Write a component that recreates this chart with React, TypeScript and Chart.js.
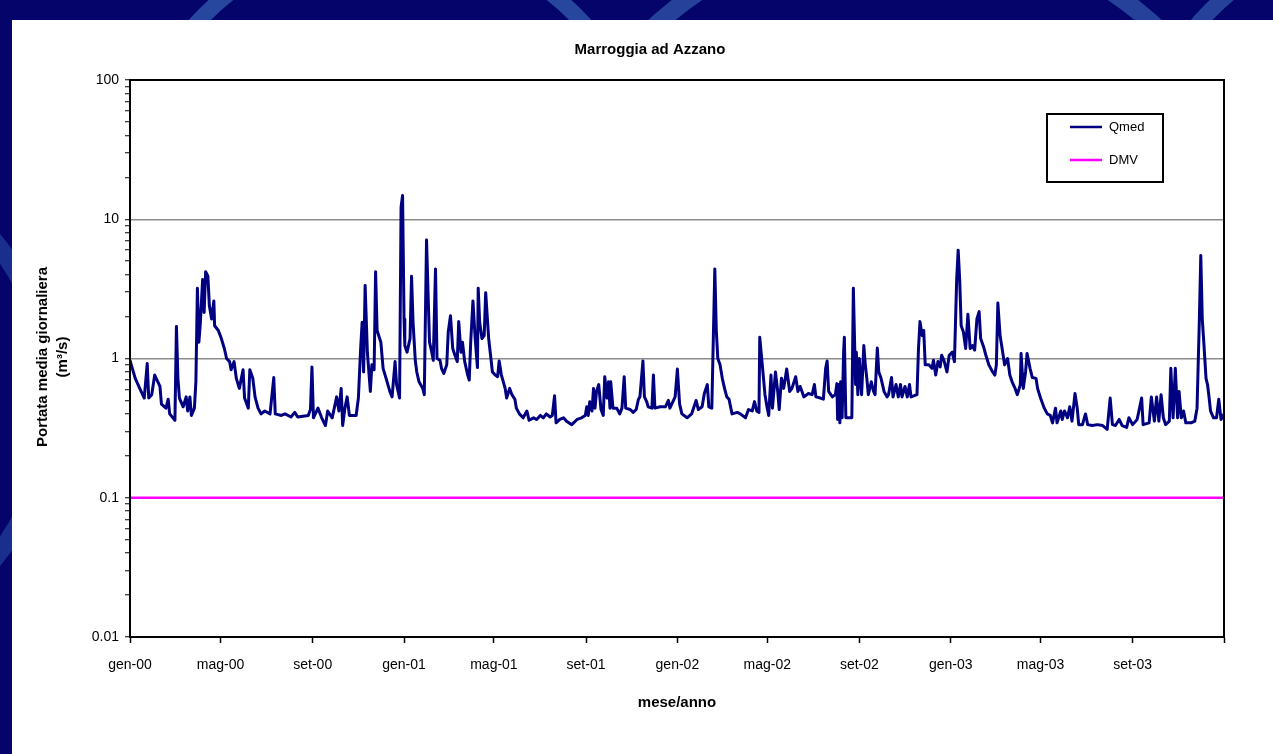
import React, { useEffect, useRef } from 'react';
import { Chart, registerables } from 'chart.js';

Chart.register(...registerables);

// ---------------- data ----------------
const CHART_TITLE = 'Marroggia ad Azzano';
const X_TITLE = 'mese/anno';
const Y_TITLE = ['Portata media giornaliera', '(m\u00B3/s)'];

// day offsets from 1 Jan 2000
const DAYS = [
  0, 7, 13, 19, 23, 25, 29, 33, 40, 42, 48, 51, 53, 60, 62, 64, 66, 71, 75, 77, 80, 82, 86, 88, 90, 92, 94, 97, 99, 101,
  104, 106, 109, 112, 113, 118, 122, 126, 129, 133, 135, 139, 142, 146, 151, 153, 158, 160, 164, 167, 171, 175, 180, 187, 192, 194, 202, 207, 215, 220,
  224, 238, 241, 243, 245, 251, 256, 261, 264, 270, 276, 279, 282, 284, 287, 290, 293, 302, 305, 308, 310, 312, 314, 317, 319, 321, 323, 326, 328, 330,
  335, 338, 342, 347, 350, 354, 356, 360, 362, 364, 366, 367, 370, 374, 376, 378, 381, 383, 386, 391, 393, 396, 400, 403, 405, 408, 410, 414, 416, 419,
  423, 425, 428, 431, 434, 437, 439, 442, 444, 447, 451, 453, 455, 458, 461, 464, 465, 467, 470, 473, 475, 479, 482, 484, 488, 491, 493, 496, 501, 503,
  507, 510, 514, 516, 520, 525, 530, 533, 539, 543, 548, 552, 556, 561, 564, 567, 569, 574, 579, 583, 590, 597, 603, 608, 610, 612, 614, 617, 619, 621,
  623, 626, 629, 632, 634, 637, 639, 641, 642, 645, 650, 654, 657, 660, 662, 668, 672, 676, 679, 681, 685, 687, 690, 692, 697, 699, 701, 708, 715, 719,
  721, 728, 731, 734, 737, 744, 750, 756, 759, 764, 767, 771, 773, 777, 781, 783, 785, 788, 791, 794, 797, 800, 804, 811, 815, 822, 826, 831, 834, 837,
  840, 841, 844, 848, 851, 853, 856, 858, 862, 865, 867, 870, 873, 877, 881, 884, 889, 892, 895, 900, 906, 911, 914, 916, 922, 926, 929, 931, 933, 938,
  942, 944, 945, 946, 948, 949, 951, 953, 954, 956, 964, 966, 969, 970, 972, 974, 977, 980, 982, 984, 986, 990, 993, 995, 998, 1000, 1003, 1007, 1011, 1013,
  1017, 1019, 1023, 1026, 1029, 1031, 1035, 1038, 1041, 1043, 1051, 1053, 1055, 1058, 1060, 1062, 1067, 1071, 1073, 1076, 1079, 1082, 1084, 1087, 1091, 1094, 1098, 1101, 1104, 1106,
  1108, 1110, 1113, 1116, 1119, 1122, 1125, 1128, 1131, 1134, 1136, 1140, 1143, 1147, 1152, 1155, 1157, 1159, 1162, 1165, 1168, 1172, 1175, 1178, 1182, 1185, 1189, 1190, 1193, 1196,
  1198, 1202, 1205, 1210, 1212, 1216, 1221, 1225, 1229, 1232, 1236, 1238, 1243, 1245, 1248, 1252, 1255, 1258, 1262, 1265, 1267, 1272, 1276, 1279, 1285, 1292, 1299, 1305, 1309, 1312,
  1316, 1321, 1325, 1331, 1334, 1339, 1345, 1351, 1353, 1361, 1364, 1368, 1371, 1374, 1377, 1380, 1383, 1388, 1390, 1393, 1396, 1399, 1401, 1404, 1407, 1410, 1417, 1422, 1425, 1428,
  1430, 1432, 1434, 1437, 1439, 1441, 1443, 1447, 1451, 1454, 1457, 1461,
];

// Qmed, m3/s
const QMED = [
  0.97, 0.72, 0.61, 0.52, 0.92, 0.52, 0.55, 0.76, 0.63, 0.47, 0.44, 0.51, 0.40, 0.36, 1.70, 0.72, 0.52, 0.45, 0.53, 0.42, 0.53, 0.39, 0.44, 0.68, 3.2, 1.31, 1.82, 3.7, 2.14, 4.2,
  3.9, 2.39, 1.92, 2.59, 1.72, 1.59, 1.39, 1.18, 1.0, 0.95, 0.83, 0.95, 0.72, 0.61, 0.83, 0.52, 0.44, 0.83, 0.72, 0.53, 0.44, 0.40, 0.42, 0.40, 0.73, 0.40, 0.39, 0.40, 0.38, 0.41,
  0.38, 0.39, 0.43, 0.87, 0.375, 0.44, 0.375, 0.33, 0.42, 0.375, 0.53, 0.42, 0.61, 0.33, 0.44, 0.53, 0.39, 0.39, 0.52, 1.18, 1.82, 0.80, 3.35, 1.11, 0.80, 0.58, 0.90, 0.83, 4.2, 1.59,
  1.31, 0.85, 0.72, 0.58, 0.53, 0.95, 0.65, 0.52, 12.2, 14.8, 1.92, 1.24, 1.11, 1.39, 3.9, 1.82, 0.97, 0.80, 0.68, 0.61, 0.55, 7.1, 1.31, 1.11, 0.97, 4.4, 1.0, 0.97, 0.85, 0.78,
  0.90, 1.55, 2.03, 1.18, 1.055, 0.95, 1.84, 1.11, 1.31, 0.95, 0.76, 0.70, 1.31, 2.59, 1.39, 0.86, 3.2, 1.82, 1.39, 1.46, 2.97, 1.39, 1.0, 0.80, 0.76, 0.74, 0.96, 0.76, 0.61, 0.52,
  0.61, 0.55, 0.51, 0.44, 0.40, 0.375, 0.42, 0.36, 0.375, 0.365, 0.39, 0.375, 0.40, 0.38, 0.39, 0.54, 0.345, 0.365, 0.375, 0.355, 0.335, 0.365, 0.375, 0.39, 0.45, 0.39, 0.49, 0.42, 0.61, 0.44,
  0.58, 0.65, 0.43, 0.39, 0.74, 0.52, 0.68, 0.44, 0.68, 0.44, 0.44, 0.40, 0.44, 0.74, 0.44, 0.43, 0.41, 0.43, 0.51, 0.53, 0.96, 0.53, 0.49, 0.45, 0.44, 0.76, 0.44, 0.45, 0.45, 0.50,
  0.44, 0.53, 0.84, 0.47, 0.40, 0.375, 0.40, 0.50, 0.43, 0.45, 0.56, 0.65, 0.45, 0.44, 4.4, 1.59, 1.0, 0.90, 0.72, 0.61, 0.53, 0.51, 0.40, 0.41, 0.40, 0.375, 0.43, 0.42, 0.49, 0.42,
  0.41, 1.42, 0.95, 0.55, 0.44, 0.39, 0.76, 0.44, 0.80, 0.58, 0.43, 0.72, 0.61, 0.84, 0.58, 0.61, 0.74, 0.58, 0.63, 0.53, 0.56, 0.55, 0.65, 0.53, 0.52, 0.51, 0.85, 0.96, 0.58, 0.53,
  0.55, 0.66, 0.365, 0.65, 0.345, 0.68, 0.375, 1.11, 1.42, 0.375, 0.375, 3.2, 0.65, 1.11, 0.55, 1.0, 0.55, 1.24, 0.90, 0.72, 0.55, 0.68, 0.58, 0.55, 1.19, 0.80, 0.72, 0.58, 0.53, 0.55,
  0.73, 0.53, 0.65, 0.53, 0.65, 0.53, 0.63, 0.53, 0.65, 0.53, 0.55, 1.18, 1.84, 1.46, 1.59, 0.90, 0.90, 0.85, 0.97, 0.76, 0.95, 0.87, 1.055, 0.97, 0.80, 1.055, 1.11, 0.95, 3.7, 6.0,
  3.7, 1.72, 1.55, 1.18, 2.08, 1.18, 1.24, 1.15, 1.92, 2.17, 1.39, 1.21, 1.055, 0.90, 0.80, 0.76, 0.90, 2.50, 1.46, 1.15, 0.90, 1.0, 0.76, 0.68, 0.61, 0.55, 0.65, 1.085, 0.61, 0.80,
  1.085, 0.85, 0.73, 0.72, 0.61, 0.52, 0.44, 0.40, 0.39, 0.345, 0.44, 0.345, 0.42, 0.365, 0.42, 0.375, 0.45, 0.355, 0.56, 0.44, 0.335, 0.335, 0.40, 0.335, 0.33, 0.335, 0.33, 0.31, 0.52, 0.335,
  0.33, 0.365, 0.33, 0.32, 0.375, 0.335, 0.365, 0.52, 0.335, 0.345, 0.53, 0.355, 0.53, 0.355, 0.55, 0.375, 0.335, 0.355, 0.85, 0.375, 0.85, 0.375, 0.58, 0.375, 0.42, 0.345, 0.345, 0.355, 0.44, 1.82,
  5.5, 1.92, 1.31, 0.72, 0.65, 0.53, 0.42, 0.375, 0.375, 0.51, 0.365, 0.40,
];

const DMV_VALUE = 0.1;
const SERIES_LABELS = ['Qmed', 'DMV'];

const X_TICK_DAYS = [0, 121, 244, 366, 486, 609, 731, 851, 974, 1096, 1216, 1339, 1461];
const X_TICK_LABELS = ['gen-00', 'mag-00', 'set-00', 'gen-01', 'mag-01', 'set-01', 'gen-02', 'mag-02', 'set-02', 'gen-03', 'mag-03', 'set-03', ''];

const Y_MAJOR = [0.01, 0.1, 1, 10, 100];
const Y_LABELS = ['0.01', '0.1', '1', '10', '100'];

// ---------------- styling ----------------
const FONT = '"Liberation Sans", Arial, sans-serif';
const QMED_COLOR = '#000080';
const DMV_COLOR = '#FF00FF';
const CANVAS_W = 1261;
const CANVAS_H = 734;

function isMajor(v: number) {
  return Y_MAJOR.some((m) => Math.abs(v - m) / m < 1e-6);
}

const decorPlugin = {
  id: 'decor',
  afterDatasetsDraw(chart: any) {
    const { ctx, chartArea: a } = chart;
    ctx.save();
    ctx.strokeStyle = '#000';
    ctx.lineWidth = 2;
    ctx.strokeRect(a.left, a.top, a.right - a.left, a.bottom - a.top);
    ctx.restore();
  },
  afterDraw(chart: any) {
    const ctx = chart.ctx;
    ctx.save();
    ctx.fillStyle = '#000';
    ctx.textAlign = 'center';
    ctx.textBaseline = 'middle';

    ctx.font = `bold 15px ${FONT}`;
    ctx.fillText(CHART_TITLE, 638, 30);

    ctx.font = `bold 15px ${FONT}`;
    ctx.fillText(X_TITLE, 665, 683);

    ctx.save();
    ctx.translate(31, 337);
    ctx.rotate(-Math.PI / 2);
    ctx.fillText(Y_TITLE[0], 0, 0);
    ctx.restore();
    ctx.save();
    ctx.translate(51, 337);
    ctx.rotate(-Math.PI / 2);
    ctx.fillText(Y_TITLE[1], 0, 0);
    ctx.restore();

    // legend box
    const bx = 1035, by = 94, bw = 116, bh = 68;
    ctx.fillStyle = '#fff';
    ctx.fillRect(bx, by, bw, bh);
    ctx.strokeStyle = '#000';
    ctx.lineWidth = 2;
    ctx.strokeRect(bx, by, bw, bh);
    const ds = chart.data.datasets;
    const rows = [107, 140];
    ctx.font = `13px ${FONT}`;
    ctx.textAlign = 'left';
    ds.forEach((d: any, i: number) => {
      ctx.strokeStyle = d.borderColor;
      ctx.lineWidth = 2.5;
      ctx.beginPath();
      ctx.moveTo(1058, rows[i]);
      ctx.lineTo(1090, rows[i]);
      ctx.stroke();
      ctx.fillStyle = '#000';
      ctx.fillText(d.label, 1097, rows[i]);
    });
    ctx.restore();
  },
};

function ChartCanvas() {
  const ref = useRef<HTMLCanvasElement | null>(null);
  useEffect(() => {
    if (!ref.current) return;
    const qmedPoints = DAYS.map((d, i) => ({ x: d, y: QMED[i] }));
    const dmvPoints = [
      { x: X_TICK_DAYS[0], y: DMV_VALUE },
      { x: X_TICK_DAYS[X_TICK_DAYS.length - 1], y: DMV_VALUE },
    ];
    const yTicks: number[] = [];
    for (let e = -2; e <= 1; e++) {
      for (let k = 1; k <= 9; k++) yTicks.push(k * Math.pow(10, e));
    }
    yTicks.push(100);

    const chart = new Chart(ref.current, {
      type: 'line',
      data: {
        datasets: [
          {
            label: SERIES_LABELS[0],
            data: qmedPoints,
            borderColor: QMED_COLOR,
            backgroundColor: QMED_COLOR,
            borderWidth: 3,
            borderJoinStyle: 'round',
            pointRadius: 0,
            tension: 0,
          },
          {
            label: SERIES_LABELS[1],
            data: dmvPoints,
            borderColor: DMV_COLOR,
            backgroundColor: DMV_COLOR,
            borderWidth: 2.5,
            pointRadius: 0,
            tension: 0,
          },
        ],
      },
      options: {
        responsive: false,
        animation: false,
        devicePixelRatio: 1,
        layout: { padding: { top: 60, right: 49, left: 0, bottom: 0 } },
        plugins: {
          legend: { display: false },
          title: { display: false },
          tooltip: { enabled: false },
        },
        scales: {
          x: {
            type: 'linear',
            min: X_TICK_DAYS[0],
            max: X_TICK_DAYS[X_TICK_DAYS.length - 1],
            afterBuildTicks: (scale: any) => {
              scale.ticks = X_TICK_DAYS.map((v) => ({ value: v }));
            },
            afterFit: (scale: any) => {
              scale.height = 117;
            },
            ticks: {
              autoSkip: false,
              maxRotation: 0,
              minRotation: 0,
              padding: 14,
              color: '#000',
              font: { family: FONT, size: 14 },
              callback: (_v: any, i: number) => X_TICK_LABELS[i],
            },
            grid: {
              drawOnChartArea: false,
              tickLength: 6,
              tickColor: '#000',
              tickWidth: 1.5,
            },
            border: { display: true, color: '#000', width: 2 },
          },
          y: {
            type: 'logarithmic',
            min: Y_MAJOR[0],
            max: Y_MAJOR[Y_MAJOR.length - 1],
            afterBuildTicks: (scale: any) => {
              scale.ticks = yTicks.map((v) => ({ value: v, major: isMajor(v) }));
            },
            afterFit: (scale: any) => {
              scale.width = 118;
            },
            ticks: {
              autoSkip: false,
              padding: 6,
              color: '#000',
              font: { family: FONT, size: 14 },
              callback: (v: any) => {
                const idx = Y_MAJOR.findIndex((m) => Math.abs(v - m) / m < 1e-6);
                return idx >= 0 ? Y_LABELS[idx] : '';
              },
            },
            grid: {
              drawOnChartArea: true,
              color: (ctx: any) => (ctx.tick && isMajor(ctx.tick.value) ? '#8c8c8c' : 'rgba(0,0,0,0)'),
              lineWidth: 1.5,
              tickLength: 5,
              tickColor: '#000',
              tickWidth: 1,
            },
            border: { display: true, color: '#000', width: 2 },
          },
        },
      } as any,
      plugins: [decorPlugin],
    });
    return () => chart.destroy();
  }, []);
  return <canvas ref={ref} width={CANVAS_W} height={CANVAS_H} style={{ display: 'block' }} />;
}

const arc = (left: number, top: number, size: number, w: number, alpha: number) => ({
  position: 'absolute' as const,
  left,
  top,
  width: size,
  height: size,
  borderRadius: '50%',
  border: `${w}px solid rgba(70,125,200,${alpha})`,
  boxSizing: 'border-box' as const,
});

export default function App() {
  return (
    <div
      style={{
        position: 'absolute',
        left: 0,
        top: 0,
        width: 1273,
        height: 754,
        background: '#04046a',
        overflow: 'hidden',
      }}
    >
      <div style={arc(120, -70, 540, 16, 0.55)} />
      <div style={arc(525, -80, 760, 18, 0.5)} />
      <div style={arc(1124, -76, 552, 16, 0.5)} />
      <div style={arc(-460, 140, 520, 18, 0.35)} />
      <div
        style={{
          position: 'absolute',
          left: 12,
          top: 20,
          width: CANVAS_W,
          height: CANVAS_H,
          background: '#ffffff',
        }}
      >
        <ChartCanvas />
      </div>
    </div>
  );
}
